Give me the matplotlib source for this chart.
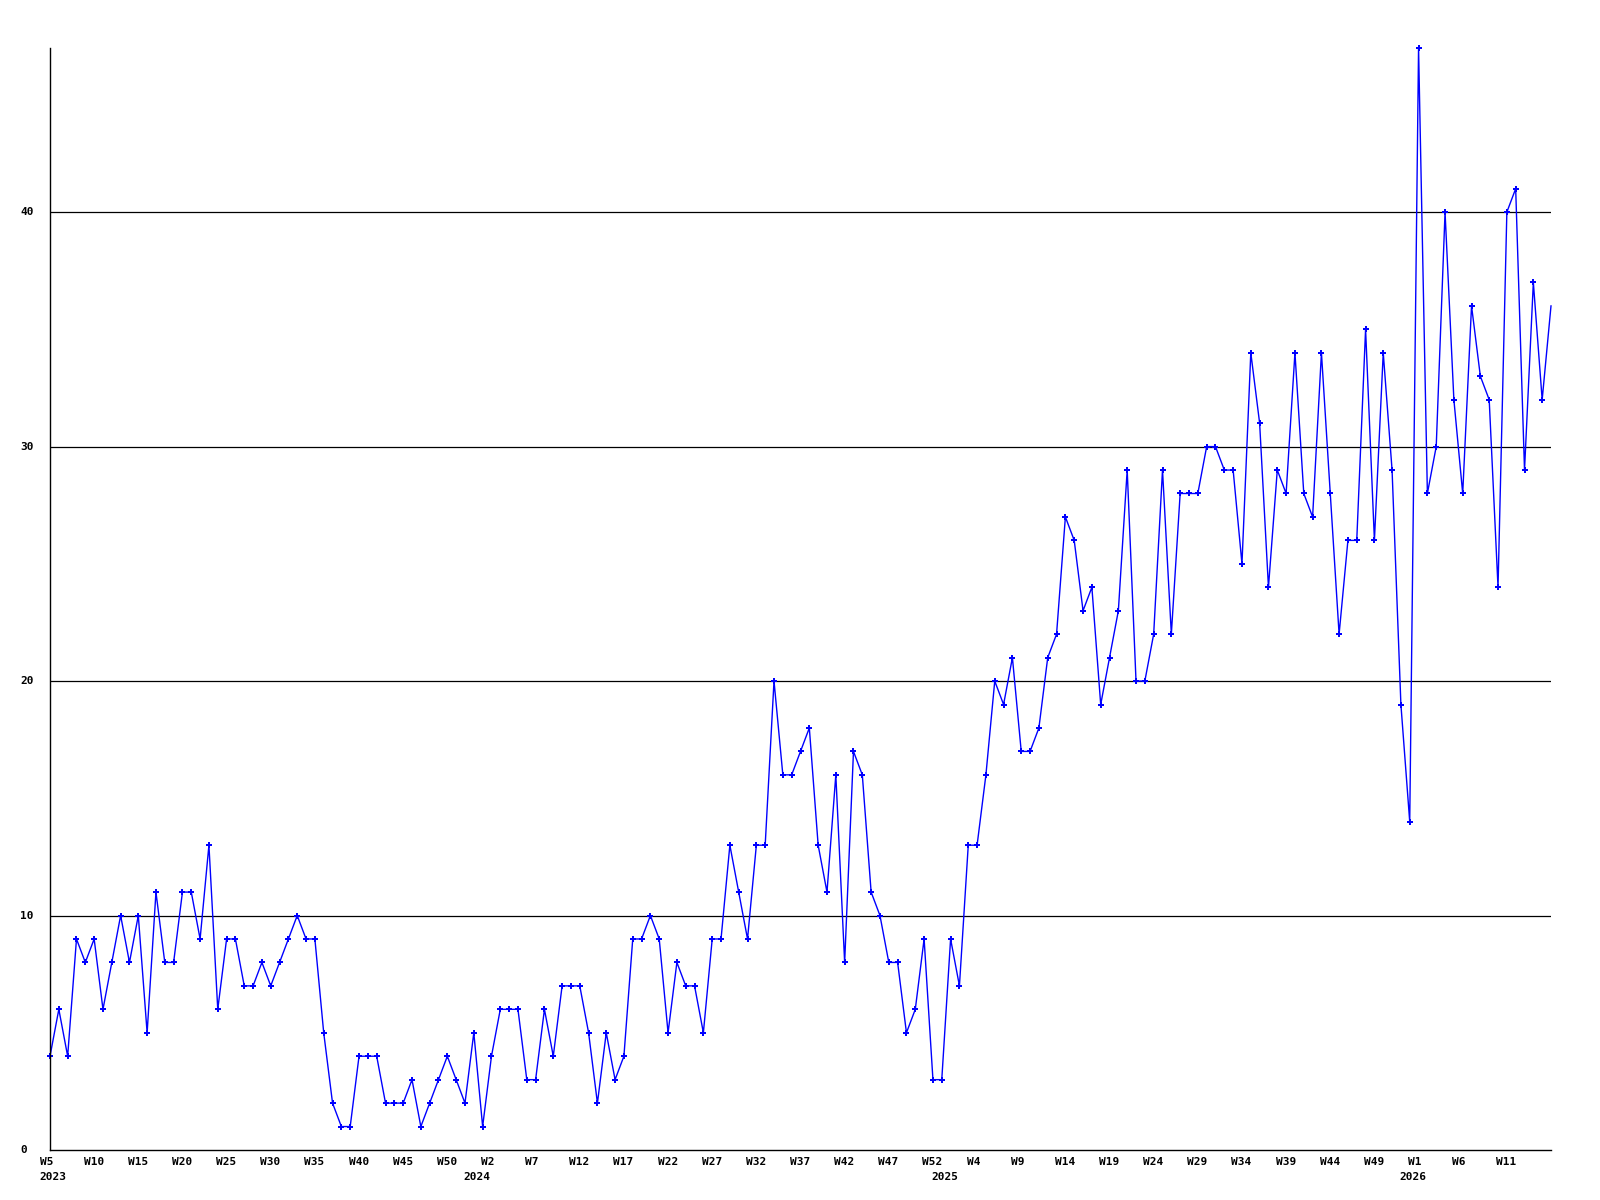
import matplotlib

matplotlib.use("Agg")

import matplotlib.pyplot as plt
from matplotlib.transforms import blended_transform_factory, offset_copy

# weekly counts, 2023 W5 .. 2026 (one value per week)
values = [
    4, 6, 4, 9, 8, 9, 6, 8, 10, 8,
    10, 5, 11, 8, 8, 11, 11, 9, 13, 6,
    9, 9, 7, 7, 8, 7, 8, 9, 10, 9,
    9, 5, 2, 1, 1, 4, 4, 4, 2, 2,
    2, 3, 1, 2, 3, 4, 3, 2, 5, 1,
    4, 6, 6, 6, 3, 3, 6, 4, 7, 7,
    7, 5, 2, 5, 3, 4, 9, 9, 10, 9,
    5, 8, 7, 7, 5, 9, 9, 13, 11, 9,
    13, 13, 20, 16, 16, 17, 18, 13, 11, 16,
    8, 17, 16, 11, 10, 8, 8, 5, 6, 9,
    3, 3, 9, 7, 13, 13, 16, 20, 19, 21,
    17, 17, 18, 21, 22, 27, 26, 23, 24, 19,
    21, 23, 29, 20, 20, 22, 29, 22, 28, 28,
    28, 30, 30, 29, 29, 25, 34, 31, 24, 29,
    28, 34, 28, 27, 34, 28, 22, 26, 26, 35,
    26, 34, 29, 19, 14, 47, 28, 30, 40, 32,
    28, 36, 33, 32, 24, 40, 41, 29, 37, 32,
    36,
]

# one label every 5 weeks, starting at the first week
week_labels = [
    "W5", "W10", "W15", "W20", "W25", "W30", "W35", "W40", "W45", "W50",
    "W2", "W7", "W12", "W17", "W22", "W27", "W32", "W37", "W42", "W47",
    "W52", "W4", "W9", "W14", "W19", "W24", "W29", "W34", "W39", "W44",
    "W49", "W1", "W6", "W11",
]
year_labels = ["2023", "2024", "2025", "2026"]
year_week = [0, 48, 101, 154]  # week index where each year starts

y_ticks = [0, 10, 20, 30, 40]

FONT = dict(family="DejaVu Sans Mono", fontweight="bold", fontsize=8)
BLUE = "#0000ff"

fig = plt.figure(figsize=(16, 12), dpi=100)
ax = fig.add_axes([50 / 1600, 1 - 1150 / 1200, 1501 / 1600, 1102 / 1200])

x = list(range(len(values)))
ax.plot(
    x, values, color=BLUE, linewidth=1.0, marker="P", markersize=4,
    markeredgewidth=0, markevery=list(range(len(values) - 1)), clip_on=False,
)

ax.set_xlim(0, len(values) - 1)
ax.set_ylim(0, max(values))

for v in y_ticks[1:]:
    ax.axhline(v, color="black", linewidth=0.9, zorder=0)

for side in ("top", "right"):
    ax.spines[side].set_visible(False)
for side in ("left", "bottom"):
    ax.spines[side].set_linewidth(1.0)
    ax.spines[side].set_color("black")
ax.set_xticks([])
ax.set_yticks([])

# y labels, left aligned near the figure edge
ytrans = blended_transform_factory(fig.transFigure, ax.transData)
for v in y_ticks:
    ax.text(20 / 1600, v, str(v), transform=ytrans, ha="left", va="center", **FONT)

# week and year labels, left aligned slightly before their week
xtrans = offset_copy(
    blended_transform_factory(ax.transData, fig.transFigure),
    fig=fig, x=-10.5, y=0, units="dots",
)
for i, lab in enumerate(week_labels):
    ax.text(i * 5, 1 - 1162 / 1200, lab, transform=xtrans, ha="left",
            va="center", clip_on=False, **FONT)

for year, pos in zip(year_labels, year_week):
    ax.text(pos, 1 - 1177 / 1200, year, transform=xtrans, ha="left",
            va="center", clip_on=False, **FONT)

fig.savefig("out.png", dpi=100)
